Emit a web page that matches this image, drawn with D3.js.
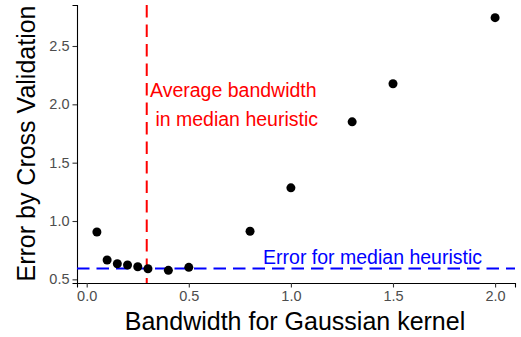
<!DOCTYPE html>
<html>
<head>
<meta charset="utf-8">
<script src="https://cdn.jsdelivr.net/npm/d3@7"></script>
<style>
  body { margin: 0; background: #fff; }
  svg { display: block; font-family: "Liberation Sans", Arial, sans-serif; }
</style>
</head>
<body>
<div id="chart"></div>
<script>
// data
const bandwidths = [0.05, 0.1, 0.15, 0.2, 0.25, 0.3, 0.4, 0.5, 0.8, 1.0, 1.3, 1.5, 2.0];
const cvErrors = [0.906, 0.666, 0.634, 0.623, 0.608, 0.591, 0.577, 0.603, 0.912, 1.284, 1.85, 2.176, 2.743];
const medianBandwidth = 0.294;
const medianError = 0.594;
const xTicks = [0, 0.5, 1, 1.5, 2];
const yTicks = [0.5, 1, 1.5, 2, 2.5];

const W = 521, H = 337;
const panel = { left: 77, right: 515, top: 5, bottom: 283 };

const svg = d3.select("#chart").append("svg")
  .attr("width", W)
  .attr("height", H);

// ggplot style 5% expansion
function expand(ext) {
  const pad = (ext[1] - ext[0]) * 0.05;
  return [ext[0] - pad, ext[1] + pad];
}

const x = d3.scaleLinear()
  .domain(expand(d3.extent(bandwidths)))
  .range([panel.left, panel.right]);

const y = d3.scaleLinear()
  .domain(expand(d3.extent(cvErrors)))
  .range([panel.bottom, panel.top]);

// axes
const gx = svg.append("g")
  .attr("transform", `translate(0,${panel.bottom})`)
  .call(d3.axisBottom(x).tickValues(xTicks).tickFormat(d3.format(".1f")).tickSizeOuter(0).tickSize(4.5).tickPadding(3));
const gy = svg.append("g")
  .attr("transform", `translate(${panel.left},0)`)
  .call(d3.axisLeft(y).tickValues(yTicks).tickFormat(d3.format(".1f")).tickSizeOuter(0).tickSize(4.5).tickPadding(3));

[gx, gy].forEach(g => {
  g.select(".domain").attr("stroke", "#000").attr("stroke-width", 1.1);
  g.selectAll(".tick line").attr("stroke", "#333").attr("stroke-width", 1.1);
  g.selectAll(".tick text")
    .attr("fill", "#4d4d4d")
    .style("font-size", "14.5px")
    .style("font-family", "Liberation Sans, Arial, sans-serif");
});

// reference lines
svg.append("line")
  .attr("x1", x(medianBandwidth)).attr("x2", x(medianBandwidth))
  .attr("y1", panel.top).attr("y2", panel.bottom)
  .attr("stroke", "#ff0000")
  .attr("stroke-width", 2)
  .attr("stroke-dasharray", "12.5,7");

svg.append("line")
  .attr("x1", panel.left).attr("x2", panel.right)
  .attr("y1", y(medianError)).attr("y2", y(medianError))
  .attr("stroke", "#0000ff")
  .attr("stroke-width", 2)
  .attr("stroke-dasharray", "12.5,7");

// points
svg.append("g").selectAll("circle")
  .data(bandwidths)
  .join("circle")
  .attr("cx", d => x(d))
  .attr("cy", (d, i) => y(cvErrors[i]))
  .attr("r", 4.5)
  .attr("fill", "#000");

// annotations
const redLabel = svg.append("text")
  .attr("fill", "#ff0000")
  .style("font-size", "19.5px")
  .style("white-space", "pre");
redLabel.append("tspan").attr("x", 150).attr("y", 97).text("Average bandwidth");
redLabel.append("tspan").attr("x", 150).attr("y", 126).text(" in median heuristic");

svg.append("text")
  .attr("x", x(1.4))
  .attr("y", 264)
  .attr("text-anchor", "middle")
  .attr("fill", "#0000ff")
  .style("font-size", "19.5px")
  .text("Error for median heuristic");

// axis titles
svg.append("text")
  .attr("x", 295)
  .attr("y", 330)
  .attr("text-anchor", "middle")
  .style("font-size", "25px")
  .text("Bandwidth for Gaussian kernel");

svg.append("text")
  .attr("transform", "translate(35,143.5) rotate(-90)")
  .attr("text-anchor", "middle")
  .style("font-size", "25px")
  .text("Error by Cross Validation");
</script>
</body>
</html>
